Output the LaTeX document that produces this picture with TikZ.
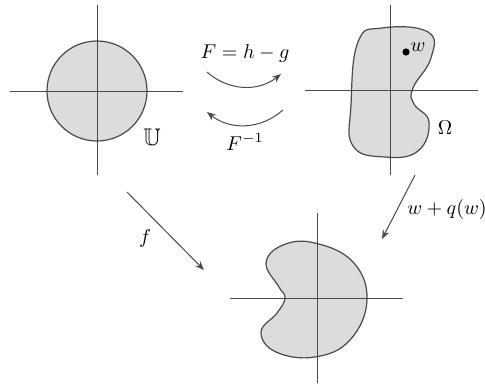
\documentclass[tikz,border=0pt]{standalone}
\usepackage{amssymb}
\definecolor{cgInk}{HTML}{4A4A4A}
\definecolor{cgFill}{HTML}{DCDCDE}
\usetikzlibrary{arrows.meta}

\begin{document}
\begin{tikzpicture}[x=0.5pt,y=-0.5pt,
                    axis/.style={draw=cgInk,line width=0.5pt},
                    region/.style={draw=cgInk,fill=cgFill,line width=0.6pt},
                    map/.style={draw=cgInk,line width=0.5pt,-{Stealth[length=4.5pt,width=3.5pt]}},
                    lbl/.style={inner sep=1pt,text=black}]
  \useasboundingbox (0,0) rectangle (485,385);
  % unit disk
  \draw[region] (97,91) circle[radius=25pt];
  \draw[axis] (10,91) -- (183,91);
  \draw[axis] (97,5) -- (97,175);
  \node[lbl] (disk) at (152,137) {\large$\mathbb{U}$};
  % omega
  \draw[region] plot[smooth cycle,tension=0.75] coordinates {
    (382,28) (428,32) (431,58) (413,88) (414,104) (429,122) (418,151)
    (385,157) (353,146) (351,105) (358,42)};
  \draw[axis] (305,90) -- (478,90);
  \draw[axis] (390,5) -- (390,175);
  \fill[black] (406,52) circle[radius=1.8pt];
  \node[lbl] (wpt) at (418,47) {$w$};
  \node[lbl] (omega) at (445,128) {$\Omega$};
  % image domain
  \draw[region] plot[smooth cycle,tension=0.7] coordinates {
    (315,243) (283,245) (266,263) (279,287) (285,298) (277,313)
    (261,332) (276,352) (315,357) (350,340) (367,300) (353,262)};
  \draw[axis] (230,298) -- (403,298);
  \draw[axis] (317,213) -- (317,383);
  % maps
  \coordinate (fwdS) at (207,72);
  \coordinate (fwdE) at (281,74);
  \coordinate (invS) at (283,110);
  \coordinate (invE) at (207,112);
  \coordinate (fS) at (127,192);
  \coordinate (fE) at (204,270);
  \coordinate (qS) at (415,175);
  \coordinate (qE) at (382,239);
  \draw[map] (fwdS) to[bend right=40] (fwdE);
  \draw[map] (invS) to[bend left=40] (invE);
  \draw[map] (fS) -- (fE);
  \draw[map] (qS) -- (qE);
  \node[lbl] (Fmap) at (245,54) {$F=h-g$};
  \node[lbl] (Finv) at (245,142) {$F^{-1}$};
  \node[lbl] (fmap) at (145,238) {$f$};
  \node[lbl] (qmap) at (447,209) {$w+q(w)$};
\end{tikzpicture}
\end{document}
